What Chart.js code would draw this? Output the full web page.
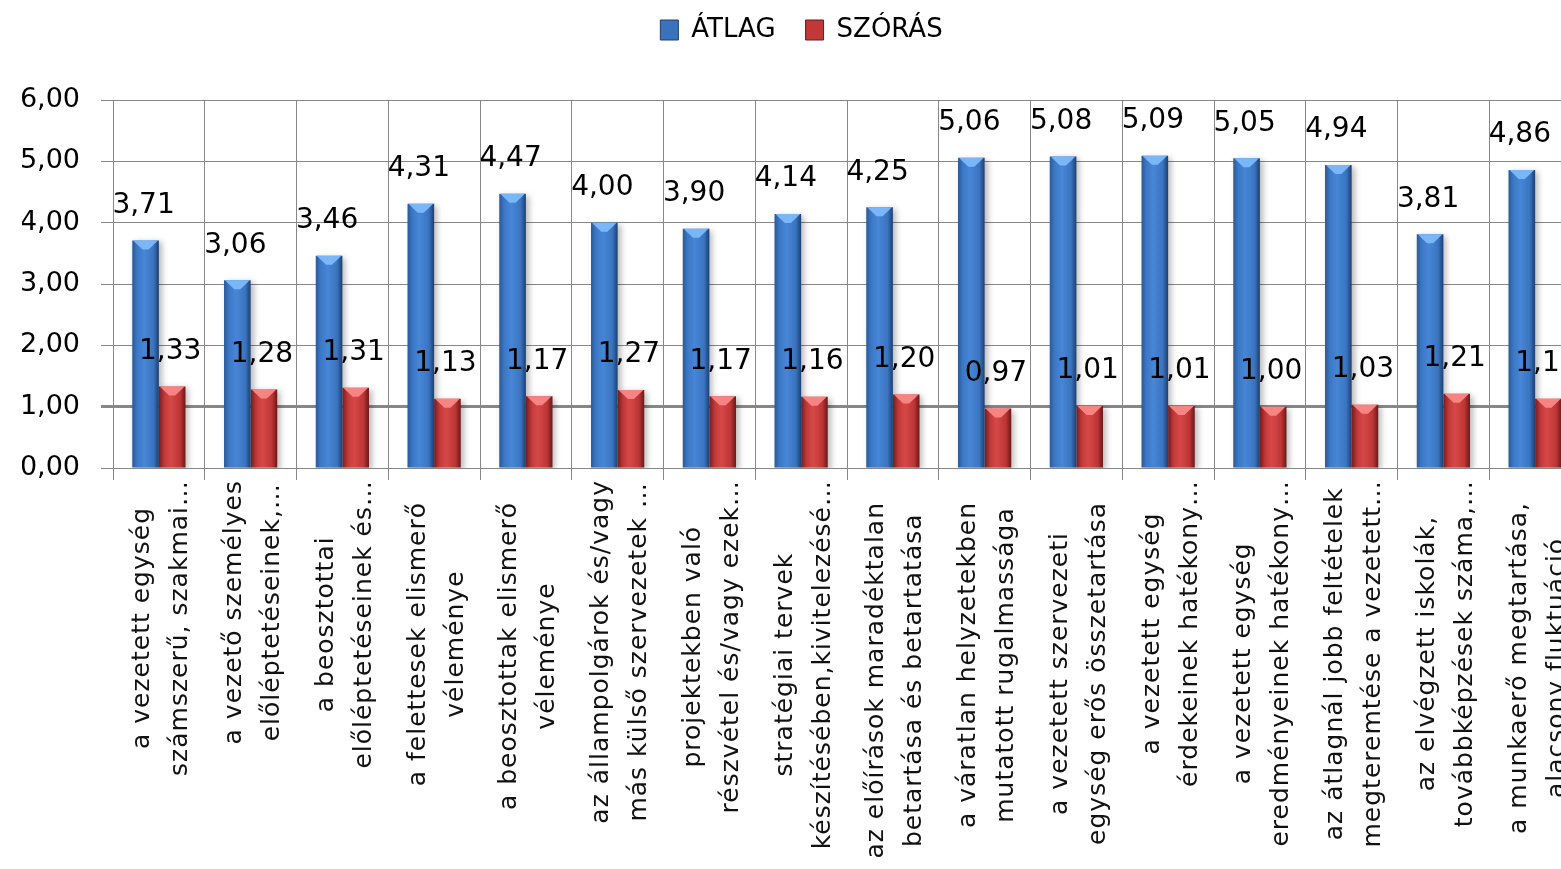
<!DOCTYPE html>
<html lang="hu">
<head>
<meta charset="utf-8">
<title>ÁTLAG és SZÓRÁS</title>
<script src="https://cdn.jsdelivr.net/npm/chart.js@4/dist/chart.umd.min.js"></script>
<style>
  html, body { margin: 0; padding: 0; background: #ffffff; overflow: hidden; }
  #wrap { width: 1561px; height: 869px; overflow: hidden; position: relative; }
  canvas { display: block; }
</style>
</head>
<body>
<div id="wrap"><canvas id="chart" width="1600" height="869" style="width:1600px;height:869px"></canvas></div>
<script>
// Kategóriák (két soros, elforgatott feliratok)
const categories = [
  ["a vezetett egység", "számszerű, szakmai…"],
  ["a vezető személyes", "előléptetéseinek,…"],
  ["a beosztottai", "előléptetéseinek és…"],
  ["a felettesek elismerő", "véleménye"],
  ["a beosztottak elismerő", "véleménye"],
  ["az állampolgárok és/vagy", "más külső szervezetek …"],
  ["projektekben való", "részvétel és/vagy ezek…"],
  ["stratégiai tervek", "készítésében,kivitelezésé…"],
  ["az előírások maradéktalan", "betartása és betartatása"],
  ["a váratlan helyzetekben", "mutatott rugalmassága"],
  ["a vezetett szervezeti", "egység erős összetartása"],
  ["a vezetett egység", "érdekeinek hatékony…"],
  ["a vezetett egység", "eredményeinek hatékony…"],
  ["az átlagnál jobb feltételek", "megteremtése a vezetett…"],
  ["az elvégzett iskolák,", "továbbképzések száma,…"],
  ["a munkaerő megtartása,", "alacsony fluktuáció"]
];

// Sorozatok
const atlag   = [3.71, 3.06, 3.46, 4.31, 4.47, 4.00, 3.90, 4.14, 4.25, 5.06, 5.08, 5.09, 5.05, 4.94, 3.81, 4.86];
const szoras  = [1.33, 1.28, 1.31, 1.13, 1.17, 1.27, 1.17, 1.16, 1.20, 0.97, 1.01, 1.01, 1.00, 1.03, 1.21, 1.13];
const seriesNames = ["ÁTLAG", "SZÓRÁS"];

// Y tengely
const yMin = 0, yMax = 6, yStep = 1;

const CAT_PCT = 0.58;
const FONT = '"DejaVu Sans", "Liberation Sans", sans-serif';
const fmt = v => v.toFixed(2).replace('.', ',');

// Hengeres hatású, vízszintes színátmenet az oszlopokra
const palettes = [
  { flat: '#3a72bd', stops: ['#2a5996', '#3b77c5', '#4786d6', '#3a74c0', '#1d3f70'], cap: 'rgba(125,185,250,0.95)' },
  { flat: '#c03838', stops: ['#9c2626', '#c73a3a', '#d64848', '#bd3535', '#6a1818'], cap: 'rgba(250,135,135,0.95)' }
];

function barFill(dsIndex) {
  const p = palettes[dsIndex];
  return (c) => {
    if (c.type !== 'data') return p.flat;
    const xs = c.chart.scales && c.chart.scales.x;
    if (!xs || !(xs.right > xs.left)) return p.flat;
    const center = xs.getPixelForValue(c.dataIndex);
    const cw = (xs.right - xs.left) / categories.length;
    const group = cw * CAT_PCT;
    const w = group / 2;
    const left = dsIndex === 0 ? center - group / 2 : center;
    const g = c.chart.ctx.createLinearGradient(left, 0, left + w, 0);
    g.addColorStop(0.0, p.stops[0]);
    g.addColorStop(0.18, p.stops[1]);
    g.addColorStop(0.45, p.stops[2]);
    g.addColorStop(0.80, p.stops[3]);
    g.addColorStop(1.0, p.stops[4]);
    return g;
  };
}

// Jelmagyarázat: a rajzterület teteje 100 px-en, a tételek kicsit feljebb
const LEGEND_PAD = 30;
const legendSpace = {
  id: 'legendSpace',
  beforeInit(chart) {
    const lg = chart.legend;
    if (!lg) return;
    const fit = lg.fit;
    lg.fit = function () {
      fit.call(lg);
      lg.height = 100;
    };
  },
  afterLayout(chart) {
    if (chart.legend) chart.legend.top = -13;
  }
};

// Enyhe árnyék az oszlopok mögött
const barShadow = {
  id: 'barShadow',
  beforeDatasetDraw(chart) {
    const ctx = chart.ctx;
    ctx.save();
    ctx.shadowColor = 'rgba(0,0,0,0.28)';
    ctx.shadowBlur = 6;
    ctx.shadowOffsetX = 3;
    ctx.shadowOffsetY = 2;
  },
  afterDatasetDraw(chart) {
    chart.ctx.restore();
  }
};

// Oszlopok fényes teteje és értékfeliratai
const barDecor = {
  id: 'barDecor',
  afterDatasetsDraw(chart) {
    const ctx = chart.ctx;
    chart.data.datasets.forEach((ds, di) => {
      const meta = chart.getDatasetMeta(di);
      const p = palettes[di];
      meta.data.forEach((bar) => {
        const { x, y, width } = bar.getProps(['x', 'y', 'width'], true);
        const L = x - width / 2, R = x + width / 2;
        ctx.save();
        ctx.fillStyle = p.cap;
        ctx.beginPath();
        ctx.moveTo(L + 1, y);
        ctx.lineTo(R - 1, y);
        ctx.lineTo(R - 4, y + 3);
        ctx.lineTo(x + 3, y + 9);
        ctx.lineTo(x - 3, y + 9);
        ctx.lineTo(L + 4, y + 3);
        ctx.closePath();
        ctx.fill();
        ctx.restore();
      });
    });
    // értékfeliratok
    ctx.save();
    ctx.font = '28px ' + FONT;
    ctx.fillStyle = '#000000';
    ctx.textAlign = 'center';
    ctx.textBaseline = 'middle';
    chart.data.datasets.forEach((ds, di) => {
      const meta = chart.getDatasetMeta(di);
      meta.data.forEach((bar, i) => {
        const { x, y } = bar.getProps(['x', 'y'], true);
        ctx.fillText(fmt(ds.data[i]), x - 2, y - 35);
      });
    });
    ctx.restore();
  }
};

// Elforgatott, soronként középre igazított kategóriafeliratok
const categoryLabels = {
  id: 'categoryLabels',
  afterDraw(chart) {
    const ctx = chart.ctx;
    const xs = chart.scales.x;
    const bottom = chart.chartArea.bottom;
    ctx.save();
    ctx.font = '25px ' + FONT;
    if ('letterSpacing' in ctx) ctx.letterSpacing = '1px';
    ctx.fillStyle = '#111111';
    ctx.textAlign = 'center';
    ctx.textBaseline = 'middle';
    const lineH = 38;
    categories.forEach((lines, i) => {
      const cx = xs.getPixelForValue(i) + 3;
      const maxW = Math.max(...lines.map(t => ctx.measureText(t).width));
      const truncated = lines.some(t => t.endsWith('…'));
      const top = bottom + (truncated ? 12 : 34);
      const cy = top + maxW / 2;
      ctx.save();
      ctx.translate(cx, cy);
      ctx.rotate(-Math.PI / 2);
      lines.forEach((t, j) => {
        ctx.fillText(t, 0, (j - (lines.length - 1) / 2) * lineH);
      });
      ctx.restore();
    });
    ctx.restore();
  }
};

const GRID = '#878787';

new Chart(document.getElementById('chart'), {
  type: 'bar',
  data: {
    labels: categories,
    datasets: [
      { label: seriesNames[0], data: atlag, backgroundColor: barFill(0), borderWidth: 0,
        categoryPercentage: CAT_PCT, barPercentage: 1.0 },
      { label: seriesNames[1], data: szoras, backgroundColor: barFill(1), borderWidth: 0,
        categoryPercentage: CAT_PCT, barPercentage: 1.0 }
    ]
  },
  options: {
    responsive: false,
    animation: false,
    devicePixelRatio: 1,
    layout: { padding: { left: 22, right: 19, top: 0, bottom: 0 } },
    plugins: {
      legend: {
        display: true,
        position: 'top',
        labels: {
          font: { family: FONT, size: 26 },
          color: '#000000',
          boxWidth: 18,
          boxHeight: 20,
          padding: LEGEND_PAD,
          generateLabels(chart) {
            const items = Chart.defaults.plugins.legend.labels.generateLabels(chart);
            items.forEach((it, i) => {
              it.fillStyle = palettes[i].flat;
              it.strokeStyle = palettes[i].stops[4];
              it.lineWidth = 1;
            });
            return items;
          }
        }
      },
      tooltip: { enabled: false }
    },
    scales: {
      x: {
        type: 'category',
        offset: true,
        ticks: { display: false },
        grid: { display: true, offset: true, color: GRID, lineWidth: 1, drawTicks: true, tickLength: 12 },
        border: { display: true, color: GRID, width: 1 },
        afterFit(scale) { scale.height = 869 - 468; }
      },
      y: {
        min: yMin,
        max: yMax,
        ticks: {
          stepSize: yStep,
          padding: 21,
          color: '#000000',
          font: { family: FONT, size: 27 },
          callback: (v) => fmt(v)
        },
        grid: {
          color: GRID,
          lineWidth: (c) => (c.tick && c.tick.value === 1 ? 3 : 1),
          drawTicks: true,
          tickLength: 12
        },
        border: { display: true, color: GRID, width: 1 },
        afterFit(scale) { scale.width = 91; }
      }
    }
  },
  plugins: [legendSpace, barShadow, barDecor, categoryLabels]
});
</script>
</body>
</html>
